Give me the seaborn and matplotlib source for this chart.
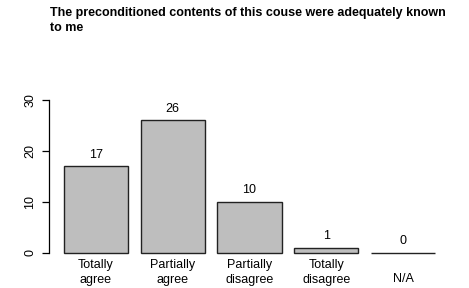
import matplotlib
matplotlib.use("Agg")
import matplotlib.pyplot as plt
import matplotlib.transforms as mtransforms
import seaborn as sns
import pandas as pd

categories = ["Totally\nagree", "Partially\nagree", "Partially\ndisagree", "Totally\ndisagree", "N/A"]
counts = [17, 26, 10, 1, 0]
yticks = [0, 10, 20, 30]
title = "The preconditioned contents of this couse were adequately known\nto me"

sns.set_theme(style="white")
plt.rcParams["font.family"] = ["Liberation Sans", "DejaVu Sans"]
plt.rcParams["text.color"] = "black"
plt.rcParams["xtick.color"] = "black"
plt.rcParams["ytick.color"] = "black"

df = pd.DataFrame({"cat": categories, "n": counts})

fig = plt.figure(figsize=(4.69, 2.88), dpi=100)
ax = fig.add_axes([49/469, 1 - 259/288, (450-49)/469, (259-94)/288])
sns.barplot(data=df, x="cat", y="n", ax=ax, color="#BEBEBE", saturation=1,
            width=1/1.2, edgecolor="#222222", linewidth=1.0)
ax.set_xlim(-0.61, 4.61)
ax.set_ylim(-1.2, 31.2)
ax.set_xlabel("")
ax.set_ylabel("")
for s in ["top", "right", "bottom"]:
    ax.spines[s].set_visible(False)
ax.spines["left"].set_bounds(0, 30)
ax.spines["left"].set_color("black")
ax.spines["left"].set_linewidth(0.9)
ax.set_yticks(yticks)
ax.set_yticklabels([str(t) for t in yticks], rotation=90, va="center", fontsize=9)
ax.tick_params(axis="y", length=5, width=0.9, color="black", pad=4, left=True)
ax.tick_params(axis="x", length=0, pad=0, labelsize=9)
for lab in ax.get_xticklabels():
    lab.set_linespacing(1.3)
    if "\n" not in lab.get_text():
        lab.set_transform(lab.get_transform() +
                          mtransforms.ScaledTranslation(0, -0.145, fig.dpi_scale_trans))
for i, v in enumerate(counts):
    ax.annotate(str(v), (i, v), xytext=(0, 4), textcoords="offset points",
                ha="center", va="bottom", fontsize=9)
fig.text(50/469, 1 - 7/288, title, ha="left", va="top", fontsize=9,
         fontweight="bold", linespacing=1.3)
fig.savefig("out.png", dpi=100)
